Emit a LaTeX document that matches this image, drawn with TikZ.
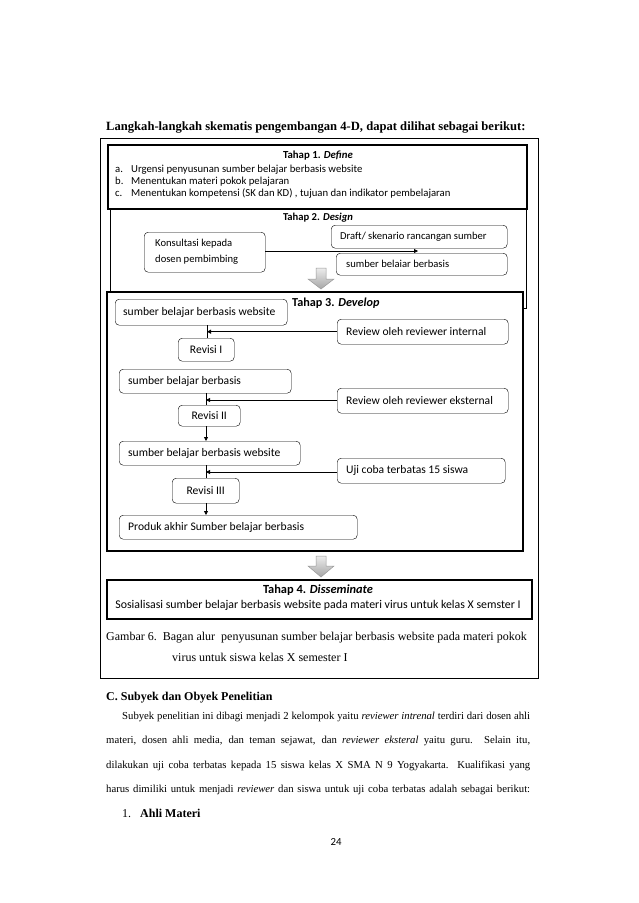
\documentclass[tikz,border=0pt]{standalone}
\usepackage{fontspec}
\setmainfont{Liberation Serif}
\newfontfamily\calfont{Carlito}
\usetikzlibrary{arrows.meta}
\newsavebox\linebox
\newcommand\lineA{Subyek penelitian ini dibagi menjadi 2 kelompok yaitu \textit{reviewer intrenal} terdiri dari dosen ahli}
\newcommand\lineB{materi, dosen ahli media, dan teman sejawat, dan \textit{reviewer eksteral} yaitu guru. Selain itu,}
\newcommand\lineC{dilakukan uji coba terbatas kepada 15 siswa kelas X SMA N 9 Yogyakarta. Kualifikasi yang}
\newcommand\lineD{harus dimiliki untuk menjadi \textit{reviewer} dan siswa untuk uji coba terbatas adalah sebagai berikut:}
\newcommand\jline[2]{\hbox to #1{\fontsize{\psz}{14}\selectfont\spaceskip=0.25em plus 2em minus 0.05em\relax #2}}
\begin{document}
\sbox\linebox{\normalfont\fontsize{12}{14}\selectfont\lineA}\pgfmathsetmacro\szA{12*408/\the\wd\linebox}%
\sbox\linebox{\normalfont\fontsize{12}{14}\selectfont\lineD}\pgfmathsetmacro\szD{12*424/\the\wd\linebox}%
\pgfmathsetmacro\psz{min(min(\szA,\szD),12)*0.995}%
\begin{tikzpicture}[x=1pt,y=-1pt,
  boxfont/.style={font=\calfont\fontsize{11.6}{13}\selectfont},
  desfont/.style={font=\calfont\fontsize{10.6}{16}\selectfont},
  deffont/.style={font=\calfont\fontsize{10.7}{12}\selectfont},
  rbox/.style={draw, rounded corners=4pt, inner xsep=8pt, inner ysep=0pt, align=flush left, anchor=north west, boxfont},
  cbox/.style={draw, rounded corners=4pt, inner sep=0pt, align=center, anchor=north west, boxfont},
  frame/.style={draw, line width=1.6pt, anchor=north west, inner sep=0pt},
  arr/.style={-{Triangle[length=4pt,width=4pt]}, line width=0.8pt},
  ln/.style={line width=0.8pt},
  ptext/.style={anchor=west, inner sep=0pt, text height=1.6ex, text depth=0.3ex, font=\fontsize{12}{14}\selectfont},
  btxt/.style={anchor=west, inner sep=0pt, text height=1.6ex, text depth=0.3ex, boxfont},
  garrow/.style={top color=gray!15, bottom color=gray!70, draw=gray!80, line width=0.5pt}
]
\useasboundingbox (0,0) rectangle (638,903);
\fill[white] (0,0) rectangle (638,903);

% heading
\node[ptext, font=\bfseries\fontsize{12.6}{14}\selectfont] (head) at (106,128) {Langkah-langkah skematis pengembangan 4-D, dapat dilihat sebagai berikut:};

% outer frame
\node[draw, line width=1.1pt, anchor=north west, minimum width=438pt, minimum height=540pt, inner sep=0pt] (outer) at (100,138) {};

% Tahap 1
\node[frame, minimum width=419pt, minimum height=64pt] (define) at (107,144) {};
\node[btxt, anchor=center, font=\calfont\bfseries\fontsize{10.8}{12}\selectfont] (t1) at (318,156) {Tahap 1. \textit{Define}};
\node[btxt, deffont] (la) at (115,170) {a.};
\node[btxt, deffont] (ia) at (131,170) {Urgensi penyusunan sumber belajar berbasis website};
\node[btxt, deffont] (lb) at (115,182) {b.};
\node[btxt, deffont] (ib) at (131,182) {Menentukan materi pokok pelajaran};
\node[btxt, deffont] (lc) at (115,194) {c.};
\node[btxt, deffont] (ic) at (131,194) {Menentukan kompetensi (SK dan KD) , tujuan dan indikator pembelajaran};

% Tahap 2
\node[draw, line width=0.8pt, anchor=north west, inner sep=0pt, minimum width=416pt, minimum height=100pt] (design) at (110,208) {};
\node[btxt, anchor=center, font=\calfont\bfseries\fontsize{10.6}{12}\selectfont] (t2) at (318,218) {Tahap 2. \textit{Design}};
\node[rbox, desfont, text width=99pt, minimum height=40pt, inner xsep=11pt] (kons) at (144,232) {Konsultasi kepada\\dosen pembimbing};
\node[rbox, desfont, text width=158pt, minimum height=23pt, inner xsep=9pt] (draft) at (331,225) {Draft/ skenario rancangan sumber};
\node[rbox, desfont, text width=151pt, minimum height=22pt, inner xsep=10pt] (sbb) at (336,253) {sumber belaiar berbasis};
\coordinate (dtip) at (418,251);
\draw[arr] (kons.east |- dtip) -- (dtip);

% gray arrow 1
\draw[garrow] (316,268) -- (326,268) -- (326,279) -- (334,279) -- (321,289) -- (308,279) -- (316,279) -- cycle;

% Tahap 3
\node[frame, fill=white, minimum width=416pt, minimum height=259pt] (develop) at (106,291) {};
\node[btxt, font=\calfont\bfseries\fontsize{12.2}{13}\selectfont] (t3) at (292,304) {Tahap 3. \textit{Develop}};
\node[rbox, text width=156pt, minimum height=26pt] (s1) at (115,299) {sumber belajar berbasis website};
\node[rbox, text width=153pt, minimum height=25pt, inner xsep=9pt] (rint) at (337,319) {Review oleh reviewer internal};
\node[cbox, minimum width=56pt, minimum height=23pt] (rev1) at (178,338) {Revisi I};
\node[rbox, text width=154pt, minimum height=24pt, inner xsep=9pt] (s2) at (119,369) {sumber belajar berbasis};
\node[rbox, text width=153pt, minimum height=25pt, inner xsep=9pt] (rext) at (337,388) {Review oleh reviewer eksternal};
\node[cbox, minimum width=62pt, minimum height=21pt] (rev2) at (178,405) {Revisi II};
\node[rbox, text width=163pt, minimum height=24pt, inner xsep=9pt] (s3) at (119,441) {sumber belajar berbasis website};
\node[rbox, text width=150pt, minimum height=25pt, inner xsep=9pt] (uji) at (337,458) {Uji coba terbatas 15 siswa};
\node[cbox, minimum width=67pt, minimum height=25pt] (rev3) at (172,478) {Revisi III};
\node[rbox, text width=220pt, minimum height=24pt, inner xsep=9pt] (prod) at (119,515) {Produk akhir Sumber belajar berbasis};

\coordinate (c1) at (207,331);
\coordinate (c2) at (206,400);
\coordinate (c3) at (206,472);
\draw[ln] (s1.south -| c1) -- (rev1.north -| c1);
\draw[arr] (rint.west) -- (rint.west -| c1);
\draw[ln] (s2.south -| c2) -- (rev2.north -| c2);
\draw[arr] (rext.west |- c2) -- (c2);
\draw[arr] (rev2.south -| c2) -- (s3.north -| c2);
\draw[ln] (s3.south -| c3) -- (rev3.north -| c3);
\draw[arr] (uji.west |- c3) -- (c3);
\draw[arr] (rev3.south -| c3) -- (prod.north -| c3);

% gray arrow 2
\draw[garrow] (316,556) -- (326,556) -- (326,566) -- (334,566) -- (321,577) -- (308,566) -- (316,566) -- cycle;

% Tahap 4
\node[frame, minimum width=425pt, minimum height=39pt] (dissem) at (106,579) {};
\node[btxt, anchor=center, font=\calfont\bfseries\fontsize{12.4}{13}\selectfont] (t4) at (318,591) {Tahap 4. \textit{Disseminate}};
\node[btxt, anchor=center, font=\calfont\fontsize{11.85}{13}\selectfont] (sos) at (318,606) {Sosialisasi sumber belajar berbasis website pada materi virus untuk kelas X semster I};

% caption
\node[ptext] (cap1) at (106,638) {Gambar 6.\ \ Bagan alur\ \ penyusunan sumber belajar berbasis website pada materi pokok};
\node[ptext] (cap2) at (172,659) {virus untuk siswa kelas X semester I};

% section text
\node[ptext, font=\bfseries\fontsize{12}{14}\selectfont] (sec) at (106,698) {C. Subyek dan Obyek Penelitian};
\node[ptext] (p1) at (122,717) {\jline{408pt}{\lineA}};
\node[ptext] (p2) at (106,741) {\jline{424pt}{\lineB}};
\node[ptext] (p3) at (106,766) {\jline{424pt}{\lineC}};
\node[ptext] (p4) at (106,790) {\jline{424pt}{\lineD}};
\node[ptext] (n1) at (122,815) {1.};
\node[ptext, font=\bfseries\fontsize{12}{14}\selectfont] (ahli) at (140,815) {Ahli Materi};
\node[btxt, anchor=center, font=\calfont\fontsize{10.8}{12}\selectfont] (pg) at (336,843) {24};
\end{tikzpicture}
\end{document}
